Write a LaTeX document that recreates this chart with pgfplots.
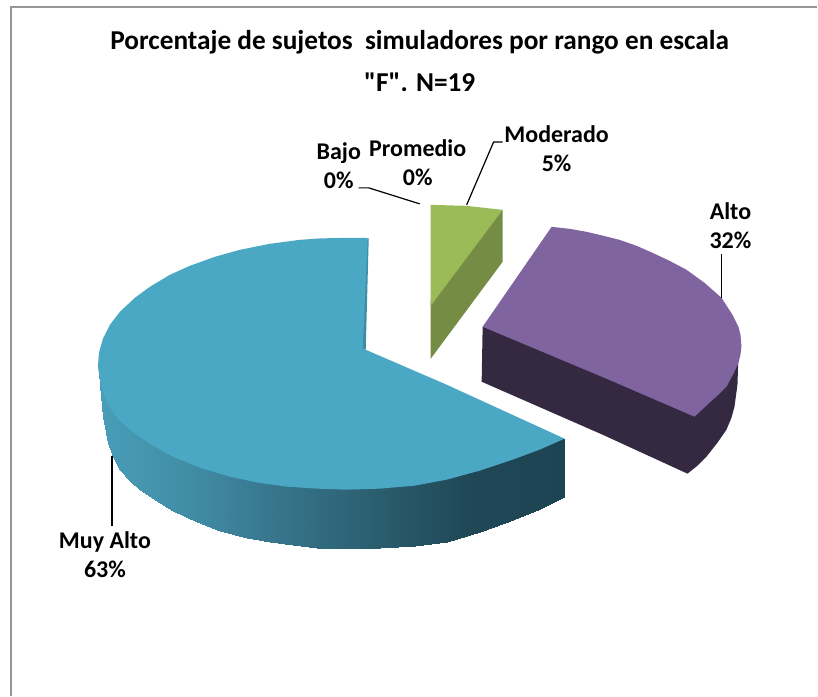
\documentclass[border=0pt]{standalone}
\usepackage{pgfplots}
\pgfplotsset{compat=1.18}
\usepackage{fontspec}
\setmainfont{Carlito}
\newfontfamily\plainq{Carlito}
\definecolor{aquatop}{RGB}{74,168,196}
\definecolor{aquawall}{RGB}{62,140,165}
\definecolor{purpletop}{RGB}{128,100,160}
\definecolor{purpleside}{RGB}{53,40,65}
\definecolor{greentop}{RGB}{155,187,89}
\definecolor{greenside}{RGB}{116,140,67}
\definecolor{framegray}{RGB}{150,150,150}
\tikzset{lab/.style={font=\fontsize{24}{29}\selectfont\bfseries, align=center, text=black, inner sep=0pt},
ttl/.style={font=\fontsize{27.3}{32}\selectfont\bfseries, align=center, text=black, inner sep=0pt}}
\begin{document}
\begin{tikzpicture}
\begin{axis}[
  scale only axis, width=818pt, height=696pt,
  xmin=0, xmax=818, ymin=0, ymax=696, y dir=reverse,
  axis line style={draw=none}, ticks=none, clip=false,
  colormap={tealside}{rgb255(0cm)=(74,158,184); rgb255(2cm)=(64,140,165); rgb255(4cm)=(54,115,137); rgb255(6cm)=(42,93,110); rgb255(8cm)=(31,71,85); rgb255(10cm)=(29,68,82)},
  point meta min=98, point meta max=565
]
% frame
\addplot[framegray, line width=1.2pt] coordinates {(818,7) (11,7) (11,696)};
% teal side, gradient strips
\addplot[patch, patch type=rectangle, shader=interp, point meta=x] table[row sep=\\] {
x y\\
99 365\\ 100 370\\ 100 385\\ 99 372\\
100 370\\ 103 380\\ 103 417\\ 100 385\\
103 380\\ 108 390\\ 108 443\\ 103 417\\
108 390\\ 113 400\\ 113 457\\ 108 443\\
113 400\\ 120 408\\ 120 470\\ 113 457\\
120 408\\ 130 416\\ 130 481\\ 120 470\\
130 416\\ 140 423\\ 140 490\\ 130 481\\
140 423\\ 155 433\\ 155 500\\ 140 490\\
155 433\\ 173 443\\ 173 511\\ 155 500\\
173 443\\ 197 453\\ 197 522\\ 173 511\\
197 453\\ 220 460\\ 220 531\\ 197 522\\
220 460\\ 247 467\\ 247 538\\ 220 531\\
247 467\\ 270 470\\ 270 542\\ 247 538\\
270 470\\ 293 473\\ 293 545\\ 270 542\\
293 473\\ 317 475\\ 317 548\\ 293 545\\
317 475\\ 340 475\\ 340 549\\ 317 548\\
340 475\\ 360 475\\ 360 549\\ 340 549\\
360 475\\ 380 474\\ 380 548\\ 360 549\\
380 474\\ 415 471\\ 415 546\\ 380 548\\
415 471\\ 447 465\\ 447 542\\ 415 546\\
447 465\\ 480 456\\ 480 532\\ 447 542\\
480 456\\ 513 445\\ 513 520\\ 480 532\\
513 445\\ 540 435\\ 540 509\\ 513 520\\
540 435\\ 565 439\\ 564 497\\ 540 509\\
};
% teal inner wall
\addplot[fill=aquawall, draw=none] coordinates {(367,240) (369,238) (366,350) (362,349)} -- cycle;
% teal top
\addplot[fill=aquatop, draw=none] coordinates {
(368,238) (345,238) (320,238.6) (300,240) (270,244) (240,250) (215,257) (190,266) (170,275) (150,287) (135,298) (120,312) (110,325) (103,339) (99,353) (98,367)
(100,380) (103,393) (108,404) (113,413) (120,421) (130,430) (150,444) (173,457) (200,468) (230,477) (258,483) (287,487) (317,489) (347,490) (380,489) (415,486) (447,480) (480,471) (513,460) (540,450) (565,439)
(447,385) (366,350) (363,349)} -- cycle;
% green
\addplot[fill=greenside, draw=none] coordinates {(503,210) (503,262) (431,359) (431,300) (498,212)} -- cycle;
\addplot[fill=greentop, draw=none] coordinates {(431,205) (467,206) (503,210) (431,306)} -- cycle;
% purple
\addplot[fill=purpleside, draw=none] coordinates {(483,327) (482,382) (603,435) (688,474) (698,466) (707,457) (718,443) (727,430) (732,418) (735,407) (738,385) (739,355) (695,410) (490,325)} -- cycle;
\addplot[fill=purpletop, draw=none] coordinates {(552,227) (570,229) (587,232) (604,236) (620,240) (637,246) (653,253) (670,261) (687,270) (705,283) (722,298) (733,315) (739,327) (741,335) (742,347) (741,355) (739,363) (734,374) (727,387) (719,395) (710,403) (695,417) (607,379) (483,327)} -- cycle;
% leaders
\addplot[black, line width=1.2pt] coordinates {(359,188) (369,188) (420,204)};
\addplot[black, line width=1.2pt] coordinates {(503,142) (494,142) (467,205)};
\addplot[black, line width=1.2pt] coordinates {(722,254) (722,298)};
\addplot[black, line width=1.2pt] coordinates {(112,456) (112,526)};
% labels
\node[ttl] at (axis cs:420,42) {Porcentaje de sujetos \ simuladores por rango en escala};
\node[ttl] at (axis cs:420,82) {\plainq\bfseries "F". N=19};
\node[lab] at (axis cs:339,166) {Bajo\\0\%};
\node[lab] at (axis cs:418,163) {Promedio\\0\%};
\node[lab] at (axis cs:557,149) {Moderado\\5\%};
\node[lab] at (axis cs:731,226) {Alto\\32\%};
\node[lab] at (axis cs:105,555) {Muy Alto\\63\%};
\end{axis}
\end{tikzpicture}
\end{document}
